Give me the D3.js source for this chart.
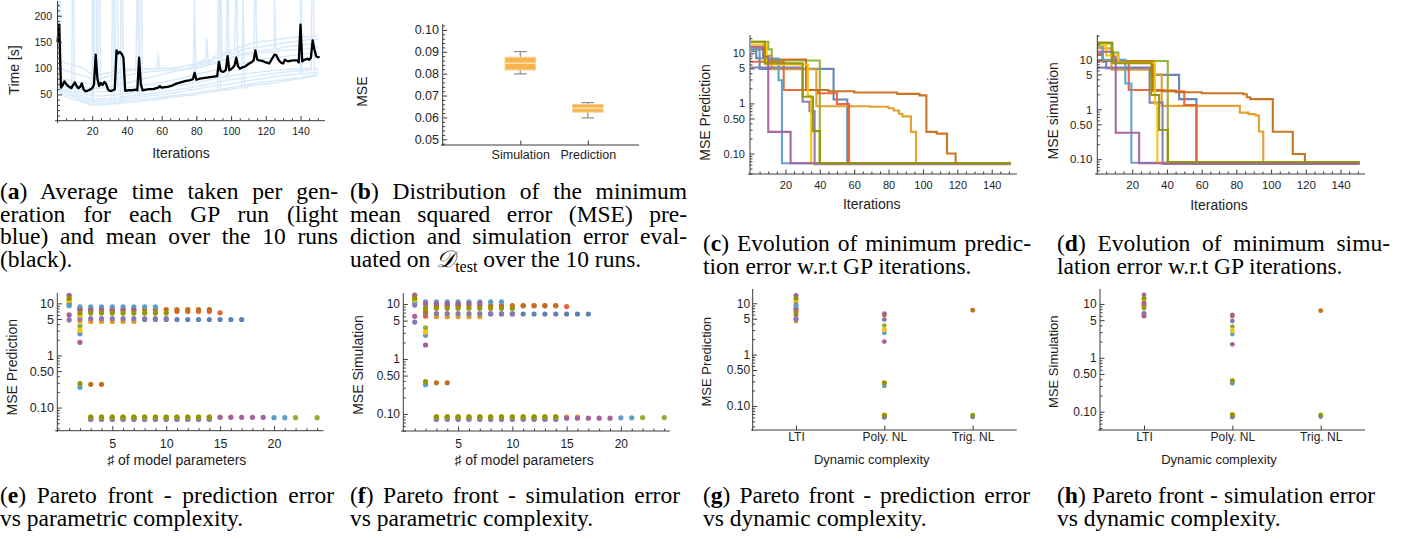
<!DOCTYPE html>
<html>
<head>
<meta charset="utf-8">
<script src="https://cdn.jsdelivr.net/npm/d3@7"></script>
<style>
  html, body { margin: 0; padding: 0; background: #fff; overflow: hidden; }
</style>
</head>
<body>
<div id="container"></div>
<script>
// ---------- data ----------
const palette = ["#5E81B5", "#E19C24", "#8FB032", "#EB6235", "#8778B3",
                 "#C56E1A", "#5D9EC7", "#FFBF00", "#A5609D", "#929600"];

// (a) time per generation
const timeIters = [0,5,10,15,20,25,30,35,40,45,50,55,60,65,70,75,80,85,90,95,100,105,110,115,120,125,130,135,140,145,150];
const timeRuns = [
  [58,45,40,35,30,30,32,33,35,36,38,40,42,44,46,48,50,53,55,58,60,63,66,68,70,72,75,78,80,83,86],
  [62,50,45,38,34,33,34,36,38,40,41,43,45,47,49,51,53,56,58,61,63,66,69,72,74,76,78,80,82,85,88],
  [65,55,48,42,38,37,38,40,42,44,46,48,50,52,55,58,60,63,66,68,70,73,76,79,81,84,86,88,90,91,92],
  [60,58,52,46,42,41,42,44,46,48,50,52,54,57,60,62,65,68,72,75,78,80,83,85,88,90,92,94,95,96,97],
  [68,62,56,52,48,47,48,50,52,55,57,59,61,64,67,70,73,76,80,83,86,88,90,92,94,96,97,98,99,100,100],
  [70,66,62,58,55,55,56,58,62,65,68,70,73,76,80,84,88,92,96,100,104,108,112,115,118,120,122,124,126,128,120],
  [75,70,67,64,62,62,64,68,72,76,80,84,88,92,96,100,104,108,112,116,120,124,126,128,130,132,134,135,136,138,130],
  [80,78,75,72,70,72,76,80,86,90,92,94,95,96,97,98,100,104,108,114,120,126,130,132,135,138,140,142,144,146,140],
  [100,95,90,86,80,80,85,90,95,97,98,99,99,100,102,105,108,112,118,124,130,134,138,140,142,145,148,150,152,155,155],
  [115,110,105,100,88,88,92,96,98,98,99,99,100,100,102,105,110,116,122,128,134,140,145,150,152,154,156,158,160,160,162]
];
// [run, iteration, peak, base]
const timeSpikes = [
  [2,1,900,62],[4,9,420,60],[1,20,600,34],[5,22,700,56],[7,24,500,72],[3,32,450,42],
  [6,34,800,64],[0,37,600,32],[8,46,300,96],[2,48,700,44],[9,58,128,100],[4,79,230,72],
  [9,86,156,108],[1,93,500,58],[6,94,300,112],[3,98,400,76],[8,103,350,126],[0,107,235,62],
  [5,114,350,112],[7,125,250,135],[2,140,800,88],[4,147,500,99]
];
const timeMean = [
  [0,150],[1,183],[2,63],[3,68],[4,75],[5,70],[6,66],[7,64],[8,62],[9,68],[10,73],[11,66],[12,62],
  [13,64],[14,71],[15,60],[16,56],[17,57],[18,58],[19,60],[20,62],[21,68],[22,126],[23,80],[24,66],
  [25,72],[26,68],[27,74],[28,70],[29,60],[30,57],[31,57],[32,58],[33,60],[34,134],[35,128],[36,131],
  [37,127],[38,120],[39,57],[41,58],[43,58],[45,59],[46,58],[47,120],[48,70],[49,58],[51,59],[53,60],
  [55,60],[57,62],[58,63],[59,66],[60,63],[62,64],[64,65],[66,67],[68,70],[70,72],[72,74],[74,76],
  [76,77],[78,79],[79,91],[80,78],[82,80],[84,81],[86,82],[88,83],[90,84],[92,85],[93,112],[94,95],
  [95,93],[96,94],[97,97],[98,123],[99,96],[100,98],[101,101],[102,105],[103,120],[104,104],[105,99],
  [106,101],[108,103],[110,108],[112,112],[113,115],[114,134],[115,117],[116,115],[118,114],[120,111],
  [122,109],[124,120],[125,126],[126,125],[127,118],[128,113],[129,110],[130,109],[131,116],[132,114],
  [133,113],[134,114],[136,115],[138,115],[139,111],[140,183],[141,113],[142,116],[143,117],[144,118],
  [145,116],[146,120],[147,153],[148,136],[149,123],[150,121],[151,121]
];
const timeTicks = [50, 100, 150, 200];
const iterTicks = [20, 40, 60, 80, 100, 120, 140];

// (b) box plot
const boxCats = ["Simulation", "Prediction"];
const boxMin = [0.0799, 0.0598];
const boxQ1 = [0.0817, 0.0624];
const boxMed = [0.0848, 0.0642];
const boxQ3 = [0.0875, 0.0660];
const boxMax = [0.0901, 0.0668];
const boxTicks = [0.05, 0.06, 0.07, 0.08, 0.09, 0.10];
const boxTickLabels = ["0.05", "0.06", "0.07", "0.08", "0.09", "0.10"];

// (c), (d) minimum error per iteration, [iteration, value] change points
const lastIter = 151;
const predSteps = [
  [[0,11],[3,8],[5,4.9],[48,1.2],[56,0.063]],
  [[0,13],[8,9],[12,4.8],[38,0.88],[69,0.86],[80,0.8],[83,0.72],[86,0.62],[88,0.55],[93,0.27],[96,0.064]],
  [[0,17],[10,12],[12,7.2],[40,0.064]],
  [[0,6.8],[19,1.85],[39,1.6],[50,0.97],[57,0.064]],
  [[0,5.2],[30,1.08],[34,0.7],[37,0.061]],
  [[0,12],[8,7.5],[32,1.85],[45,1.75],[60,1.65],[85,1.55],[98,1.45],[102,0.27],[108,0.25],[114,0.1],[119,0.064]],
  [[0,12],[5,7.9],[16,2.9],[18,0.064]],
  [[0,15],[9,6.0],[33,1.4],[35,0.064]],
  [[0,13.5],[7,8.5],[10,0.27],[23,0.064]],
  [[0,17],[8,6.3],[30,1.36],[36,0.28],[40,0.064]]
];
const simSteps = [
  [[0,13],[3,9],[5,6.7],[31,4.9],[47,1.6],[57,0.081]],
  [[0,16.7],[8,6.2],[31,5.0],[37,1.17],[82,0.86],[87,0.8],[91,0.75],[93,0.36],[95.5,0.085]],
  [[0,21],[8,13.7],[12,9.3],[40.5,0.088]],
  [[0,9.3],[18,2.44],[38,2.3],[50,1.22],[57,0.086]],
  [[0,6.85],[30,1.36],[37.5,0.08]],
  [[0,12.3],[3,9.3],[32,2.37],[45,2.2],[60,2.1],[84,2.0],[86,1.75],[88,1.6],[101,0.356],[112.5,0.127],[119.5,0.086]],
  [[0,18],[3,9.8],[16,3.3],[19.5,0.085]],
  [[0,19],[5,12],[12,8.6],[33,1.3],[34.5,0.085]],
  [[0,14.3],[9,11],[10.5,0.34],[24,0.083]],
  [[0,21.7],[8.6,8.4],[31,1.94],[35.5,0.385],[40.5,0.088]]
];
const logTicks = [0.1, 0.5, 1, 5, 10];
const logTickLabels = ["0.10", "0.50", "1", "5", "10"];

// (e), (f) pareto fronts: per run, rows of [mse, [number of parameters]]
const paretoPred = [
  [[4.9,[8,9,10,11,12,13,14,15,16,17]],[0.060,[3,4,5,6,7,8,9,10,11,12,13,14]]],
  [[10.5,[1]],[4.6,[2]],[4.5,[3,4,5,6,7]],[0.066,[15,16]]],
  [[12.0,[1]],[3.67,[2]],[0.065,[3,4,5,6,7,8,9,10,11,12,13,14]],[0.064,[22,24]]],
  [[7.6,[2]],[7.3,[3,4,5]],[7.0,[11,12,13,14]],[6.6,[15]],[0.065,[3,4,5,6,7]]],
  [[9.5,[1]],[4.8,[1]],[5.1,[2,3,4,5,6,7,8,9,10]],[0.060,[3,4,5,6,7,8,9,10,11,12,13,14]]],
  [[7.8,[2]],[7.6,[3,4,5,6,7,8,9,10,11,12,13,14]],[0.28,[3,4]]],
  [[9.0,[1]],[8.6,[2,3,4,5,6,7,8,9]],[2.6,[2]],[0.245,[2]],[0.064,[20,21]]],
  [[11.5,[1]],[5.9,[2]],[3.05,[2]],[0.066,[3,4,5,6,7,8,9,10,11,12,13,14]]],
  [[14.3,[1]],[6.0,[1]],[7.4,[2,3,4,5,6,7]],[1.79,[2]],[0.065,[15,16,17,18,19]]],
  [[12.5,[1]],[6.5,[2,3,4,5,6,7,8,9,10]],[0.29,[2]],[0.066,[3,4,5,6,7,8,9,10,11,12,13,14]]]
];
const paretoSim = [
  [[6.6,[8,9,10,11,12,13,14,15,16,17]],[0.081,[3,4,5,6,7,8,9,10,11,12,13,14]]],
  [[11,[1]],[9.4,[2]],[5.9,[3,4,5,6,7]],[0.088,[15,16]]],
  [[12.5,[1]],[3.7,[2]],[0.088,[3,4,5,6,7,8,9,10,11,12,13,14]],[0.086,[22,24]]],
  [[6.0,[2]],[9.4,[3,4,5]],[9.3,[11,12,13,14]],[9.0,[15]],[0.088,[3,4,5,6,7]]],
  [[9.6,[1]],[4.7,[1]],[6.7,[2,3,4,5,6,7,8,9,10]],[0.080,[3,4,5,6,7,8,9,10,11,12,13,14]]],
  [[7.2,[2]],[9.4,[3,4,5,6,7,8,9,10,11,12,13,14]],[0.37,[3,4]]],
  [[11,[1]],[11.0,[2,3,4,5,6,7,8,9]],[2.7,[2]],[0.34,[2]],[0.085,[20,21]]],
  [[12,[1]],[8.8,[2]],[3.1,[2]],[0.089,[3,4,5,6,7,8,9,10,11,12,13,14]]],
  [[14.5,[1]],[6.0,[1]],[10.2,[2,3,4,5,6,7]],[1.8,[2]],[0.084,[15,16,17,18,19]]],
  [[12.8,[1]],[8.4,[2,3,4,5,6,7,8,9,10]],[0.39,[2]],[0.089,[3,4,5,6,7,8,9,10,11,12,13,14]]]
];
const paramTicks = [5, 10, 15, 20];

// (g), (h) dynamic complexity: per run, [category index, mse]
const dynCats = ["LTI", "Poly. NL", "Trig. NL"];
const dynPred = [
  [[0,4.9],[0,8.0],[1,0.060]],
  [[0,10.5],[0,4.5],[1,0.066]],
  [[0,12.0],[1,3.67],[1,0.065]],
  [[0,7.6],[0,7.0],[1,0.065]],
  [[0,9.5],[0,5.1],[0,4.8],[1,4.8],[1,0.060],[2,0.061]],
  [[0,7.6],[1,5.9],[2,7.3],[1,0.28]],
  [[0,9.0],[0,8.6],[1,2.65],[1,0.245]],
  [[0,11.5],[0,5.9],[1,3.05],[1,0.066]],
  [[0,14.3],[0,13.2],[0,7.4],[0,6.0],[1,6.3],[1,1.79],[1,0.065]],
  [[0,12.5],[0,6.5],[1,0.28],[1,0.066],[2,0.066]]
];
const dynSim = [
  [[0,6.6],[1,0.080]],
  [[0,10.4],[0,5.9],[1,0.088]],
  [[0,12.5],[1,3.8],[1,0.088]],
  [[0,9.4],[0,6.0],[1,0.087]],
  [[0,9.6],[0,6.7],[1,4.83],[1,0.080],[2,0.081]],
  [[0,9.3],[1,6.0],[2,7.5],[1,0.37]],
  [[0,11.0],[1,2.77],[1,0.336]],
  [[0,12.0],[0,8.8],[1,3.15],[1,0.089]],
  [[0,14.7],[0,10.2],[0,6.0],[1,6.25],[1,1.78],[1,0.085]],
  [[0,12.8],[0,8.4],[1,0.377],[1,0.087],[2,0.087]]
];

// captions
const captions = [
  {id: "a", x: 0, w: 338, y: 199, full: 3, lines: ["Average time taken per gen-", "eration for each GP run (light", "blue) and mean over the 10 runs", "(black)."]},
  {id: "b", x: 350, w: 337, y: 199, full: 3, lines: ["Distribution of the minimum", "mean squared error (MSE) pre-", "diction and simulation error eval-", "uated on {D} over the 10 runs."]},
  {id: "c", x: 703, w: 328, y: 251, full: 1, lines: ["Evolution of minimum predic-", "tion error w.r.t GP iterations."]},
  {id: "d", x: 1057, w: 333, y: 251, full: 1, lines: ["Evolution of minimum simu-", "lation error w.r.t GP iterations."]},
  {id: "e", x: 0, w: 334, y: 503, full: 1, lines: ["Pareto front - prediction error", "vs parametric complexity."]},
  {id: "f", x: 350, w: 330, y: 503, full: 1, lines: ["Pareto front - simulation error", "vs parametric complexity."]},
  {id: "g", x: 703, w: 327, y: 503, full: 1, lines: ["Pareto front - prediction error", "vs dynamic complexity."]},
  {id: "h", x: 1057, w: 318, y: 503, full: 1, lines: ["Pareto front - simulation error", "vs dynamic complexity."]}
];

// ---------- drawing ----------
const FONT = "'Liberation Sans', Arial, sans-serif";
const SERIF = "'Liberation Serif', 'Times New Roman', serif";
const axisColor = "#3c3c3c";
const textColor = "#1e1e1e";

const svg = d3.select("#container").append("svg")
  .attr("width", 1406)
  .attr("height", 539);

function yAxis(o) {
  const g = svg.append("g").attr("transform", `translate(${o.at},0)`);
  g.call(d3.axisLeft(o.scale).tickValues(o.ticks).tickFormat((d, i) => o.labels[i])
    .tickSize(-4.5).tickSizeOuter(0).tickPadding(o.pad));
  g.select(".domain").remove();
  g.selectAll("line").attr("stroke", axisColor);
  g.selectAll("text").attr("fill", textColor).style("font-size", o.fs + "px").style("font-family", FONT);
  if (o.minor) {
    const m = svg.append("g").attr("transform", `translate(${o.at},0)`)
      .call(d3.axisLeft(o.scale).tickValues(o.minor).tickFormat("").tickSize(-2.5).tickSizeOuter(0));
    m.select(".domain").remove();
    m.selectAll("line").attr("stroke", axisColor);
  }
  svg.append("line").attr("x1", o.at).attr("x2", o.at).attr("y1", o.from).attr("y2", o.to)
    .attr("stroke", axisColor).attr("stroke-width", 1);
}

function xAxis(o) {
  const g = svg.append("g").attr("transform", `translate(0,${o.at})`);
  g.call(d3.axisBottom(o.scale).tickValues(o.ticks).tickFormat((d, i) => o.labels[i])
    .tickSize(-4.5).tickSizeOuter(0).tickPadding(o.pad));
  g.select(".domain").remove();
  g.selectAll("line").attr("stroke", axisColor);
  g.selectAll("text").attr("fill", textColor).style("font-size", o.fs + "px").style("font-family", FONT);
  if (o.minor) {
    const m = svg.append("g").attr("transform", `translate(0,${o.at})`)
      .call(d3.axisBottom(o.scale).tickValues(o.minor).tickFormat("").tickSize(-2.5).tickSizeOuter(0));
    m.select(".domain").remove();
    m.selectAll("line").attr("stroke", axisColor);
  }
  svg.append("line").attr("y1", o.at).attr("y2", o.at).attr("x1", o.from).attr("x2", o.to)
    .attr("stroke", axisColor).attr("stroke-width", 1);
}

function title(text, x, y, fs, rotate) {
  svg.append("text")
    .attr("transform", `translate(${x},${y})` + (rotate ? " rotate(-90)" : ""))
    .attr("text-anchor", "middle")
    .attr("dominant-baseline", "central")
    .attr("fill", textColor)
    .style("font-family", FONT)
    .style("font-size", fs + "px")
    .text(text);
}

function logMinor(y) {
  return y.ticks().filter(v => !logTicks.some(t => Math.abs(t - v) < 1e-9));
}

// ----- (a) -----
{
  const x = d3.scaleLinear().domain([0, 154]).range([57.5, 324.8]);
  const y = d3.scaleLinear().domain([0, 228]).range([120.7, 1]);
  svg.append("clipPath").attr("id", "clipA").append("rect")
    .attr("x", 57.5).attr("y", 0).attr("width", 270).attr("height", 121);
  const line = d3.line().x(d => x(d[0])).y(d => y(d[1]));
  const runs = svg.append("g").attr("clip-path", "url(#clipA)");
  timeRuns.forEach((run, r) => {
    const pts = run.map((v, i) => [timeIters[i], v]);
    timeSpikes.filter(s => s[0] === r).forEach(s => {
      pts.push([s[1] - 0.8, s[3]], [s[1], s[2]], [s[1] + 0.8, s[3]]);
    });
    pts.sort((a, b) => a[0] - b[0]);
    runs.append("path").attr("d", line(pts))
      .attr("fill", "none").attr("stroke", "#d9ebfb").attr("stroke-width", 1.5)
      .attr("stroke-linejoin", "round");
  });
  svg.append("path").attr("d", line(timeMean))
    .attr("fill", "none").attr("stroke", "#000").attr("stroke-width", 2.3)
    .attr("stroke-linejoin", "round");

  yAxis({scale: y, at: 57.5, ticks: timeTicks, labels: timeTicks.map(String),
    minor: d3.range(10, 228, 10).filter(v => v % 50 !== 0), fs: 10.5, pad: 5.5, from: 123, to: 1});
  xAxis({scale: x, at: 120.7, ticks: iterTicks, labels: iterTicks.map(String),
    minor: d3.range(5, 155, 5).filter(v => v % 20 !== 0), fs: 10.5, pad: 7, from: 55, to: 325});
  title("Time [s]", 14, 70, 14, true);
  title("Iterations", 181, 153, 14, false);
}

// ----- (b) -----
{
  const x = d3.scalePoint().domain(boxCats).range([520.3, 587.8]);
  const y = d3.scaleLinear().domain([0.0474, 0.1027]).range([145, 24]);
  const hw = 15.3, cw = 6.3;
  boxCats.forEach((c, i) => {
    const cx = x(c);
    const g = svg.append("g");
    g.append("line").attr("x1", cx).attr("x2", cx).attr("y1", y(boxMax[i])).attr("y2", y(boxQ3[i]))
      .attr("stroke", "#8c8c8c").attr("stroke-width", 1.2);
    g.append("line").attr("x1", cx).attr("x2", cx).attr("y1", y(boxQ1[i])).attr("y2", y(boxMin[i]))
      .attr("stroke", "#8c8c8c").attr("stroke-width", 1.2);
    [boxMax[i], boxMin[i]].forEach(v => g.append("line")
      .attr("x1", cx - cw).attr("x2", cx + cw).attr("y1", y(v)).attr("y2", y(v))
      .attr("stroke", "#8c8c8c").attr("stroke-width", 1.2));
    g.append("rect").attr("x", cx - hw).attr("width", 2 * hw)
      .attr("y", y(boxQ3[i])).attr("height", y(boxQ1[i]) - y(boxQ3[i]))
      .attr("fill", "#f6b44c").attr("stroke", "#fad18c").attr("stroke-width", 1);
    g.append("line").attr("x1", cx - hw).attr("x2", cx + hw).attr("y1", y(boxMed[i])).attr("y2", y(boxMed[i]))
      .attr("stroke", "#fde8bd").attr("stroke-width", 1.3);
  });
  yAxis({scale: y, at: 442.7, ticks: boxTicks, labels: boxTickLabels,
    minor: d3.range(24, 52).filter(k => k % 5 !== 0).map(k => k * 0.002), fs: 12.5, pad: 3.7, from: 146, to: 24});
  xAxis({scale: x, at: 145, ticks: boxCats, labels: boxCats, fs: 12.5, pad: 5.5, from: 441, to: 639});
  title("MSE", 361.7, 91.7, 14, true);
}

// ----- (c), (d) -----
function stepPanel(steps, x, y, yat, xat, yFrom, xFrom, xTo, fs, ylabel, ylx, yly, xlx, xly) {
  const line = d3.line().x(d => x(d[0])).y(d => y(d[1])).curve(d3.curveStepAfter);
  steps.forEach((s, r) => {
    const pts = s.concat([[lastIter, s[s.length - 1][1]]]);
    svg.append("path").attr("d", line(pts))
      .attr("fill", "none").attr("stroke", palette[r]).attr("stroke-width", 2.1)
      .attr("stroke-opacity", 0.95);
  });
  yAxis({scale: y, at: yat, ticks: logTicks, labels: logTickLabels, minor: logMinor(y),
    fs: fs, pad: 5, from: 175, to: yFrom});
  xAxis({scale: x, at: xat, ticks: iterTicks, labels: iterTicks.map(String),
    minor: d3.range(5, 155, 5).filter(v => v % 20 !== 0), fs: fs, pad: 7, from: xFrom, to: xTo});
  title(ylabel, ylx, yly, 14, true);
  title("Iterations", xlx, xly, 14, false);
}
stepPanel(predSteps,
  d3.scaleLinear().domain([-0.6, 154.7]).range([750, 1017]),
  d3.scaleLog().domain([0.039, 23.2]).range([174, 35]),
  750, 174, 35, 748, 1017, 11, "MSE Prediction", 705, 112.5, 871.7, 204.3);
stepPanel(simSteps,
  d3.scaleLinear().domain([0, 154]).range([1097.5, 1364.8]),
  d3.scaleLog().domain([0.0505, 30.9]).range([174, 35]),
  1097.3, 174, 35, 1095, 1365, 11.5, "MSE simulation", 1053.3, 110.8, 1219, 205);

// ----- (e), (f) -----
function paretoPanel(data, x, y, yat, xat, yFrom, yTo, xFrom, xTo, fs, ypad, xpad, ylabel, ylx, yly, xlx, xly) {
  const g = svg.append("g");
  data.forEach((rows, r) => {
    rows.forEach(([mse, ps]) => {
      ps.forEach(p => g.append("circle").attr("cx", x(p)).attr("cy", y(mse)).attr("r", 2.6)
        .attr("fill", palette[r]));
    });
  });
  yAxis({scale: y, at: yat, ticks: logTicks, labels: logTickLabels, minor: logMinor(y),
    fs: fs, pad: ypad, from: yFrom, to: yTo});
  xAxis({scale: x, at: xat, ticks: paramTicks, labels: paramTicks.map(String),
    minor: d3.range(1, 25).filter(v => v % 5 !== 0), fs: fs, pad: xpad, from: xFrom, to: xTo});
  title(ylabel, ylx, yly, 14, true);
  title("\u266F of model parameters", xlx, xly, 14, false);
}
paretoPanel(paretoPred,
  d3.scaleLinear().domain([-0.1, 24.6]).range([57.3, 323.6]),
  d3.scaleLog().domain([0.036, 15.6]).range([430.7, 293.3]),
  57.3, 430.7, 432, 293, 55, 323.5, 12.5, 3.3, 8.5, "MSE Prediction", 11.7, 367.3, 176.7, 459.8);
paretoPanel(paretoSim,
  d3.scaleLinear().domain([-0.05, 24.5]).range([403.3, 669.7]),
  d3.scaleLog().domain([0.049, 15.7]).range([431, 293.3]),
  403.3, 431, 432, 293, 401, 670, 12, 3.3, 8.5, "MSE Simulation", 358.3, 365, 524, 459.8);

// ----- (g), (h) -----
function dynPanel(data, x, y, yat, xFrom, xTo, ypad, ylabel, ylx, yly, xlx, xly) {
  const g = svg.append("g");
  data.forEach((pts, r) => {
    pts.forEach(([c, mse]) => g.append("circle").attr("cx", x(dynCats[c])).attr("cy", y(mse))
      .attr("r", 2.4).attr("fill", palette[r]));
  });
  yAxis({scale: y, at: yat, ticks: logTicks, labels: logTickLabels, minor: logMinor(y),
    fs: 12, pad: ypad, from: 431, to: 289});
  xAxis({scale: x, at: 430, ticks: dynCats, labels: dynCats, fs: 12, pad: 2.5, from: xFrom, to: xTo});
  title(ylabel, ylx, yly, 13, true);
  title("Dynamic complexity", xlx, xly, 13, false);
}
dynPanel(dynPred,
  d3.scalePoint().domain(dynCats).range([796, 972.7]),
  d3.scaleLog().domain([0.034, 18.7]).range([430, 289.3]),
  752.7, 751, 1016.7, 2.5, "MSE Prediction", 706.7, 361.7, 871.7, 459.3);
dynPanel(dynSim,
  d3.scalePoint().domain(dynCats).range([1144, 1320.7]),
  d3.scaleLog().domain([0.0457, 18.7]).range([430, 289.3]),
  1100, 1098, 1365, 3.3, "MSE Simulation", 1053, 361.7, 1219, 459.3);

// ----- captions -----
const lead = 22.5;
const capG = svg.append("g").style("font-family", SERIF).style("font-size", "23.5px").attr("fill", "#000");
captions.forEach(c => {
  c.lines.forEach((ln, i) => {
    const t = capG.append("text").attr("x", c.x).attr("y", c.y + i * lead);
    let plain = ln;
    if (i === 0) {
      t.append("tspan").text("(");
      t.append("tspan").attr("font-weight", "bold").text(c.id);
      t.append("tspan").text(") " + ln);
      plain = "(" + c.id + ") " + ln;
    } else if (ln.includes("{D}")) {
      const parts = ln.split("{D}");
      t.append("tspan").text(parts[0]);
      t.append("tspan").style("font-family", "'DejaVu Serif', serif").style("font-style", "italic").text("\uD835\uDC9F");
      t.append("tspan").attr("dy", 5).style("font-size", "16px").text("test");
      t.append("tspan").attr("dy", -5).text(parts[1]);
    } else {
      t.text(ln);
    }
    if (i < c.full) {
      const nat = t.node().getComputedTextLength();
      const spaces = (plain.match(/ /g) || []).length;
      if (spaces > 0) t.attr("word-spacing", (c.w - nat) / spaces);
    }
  });
});
</script>
</body>
</html>
